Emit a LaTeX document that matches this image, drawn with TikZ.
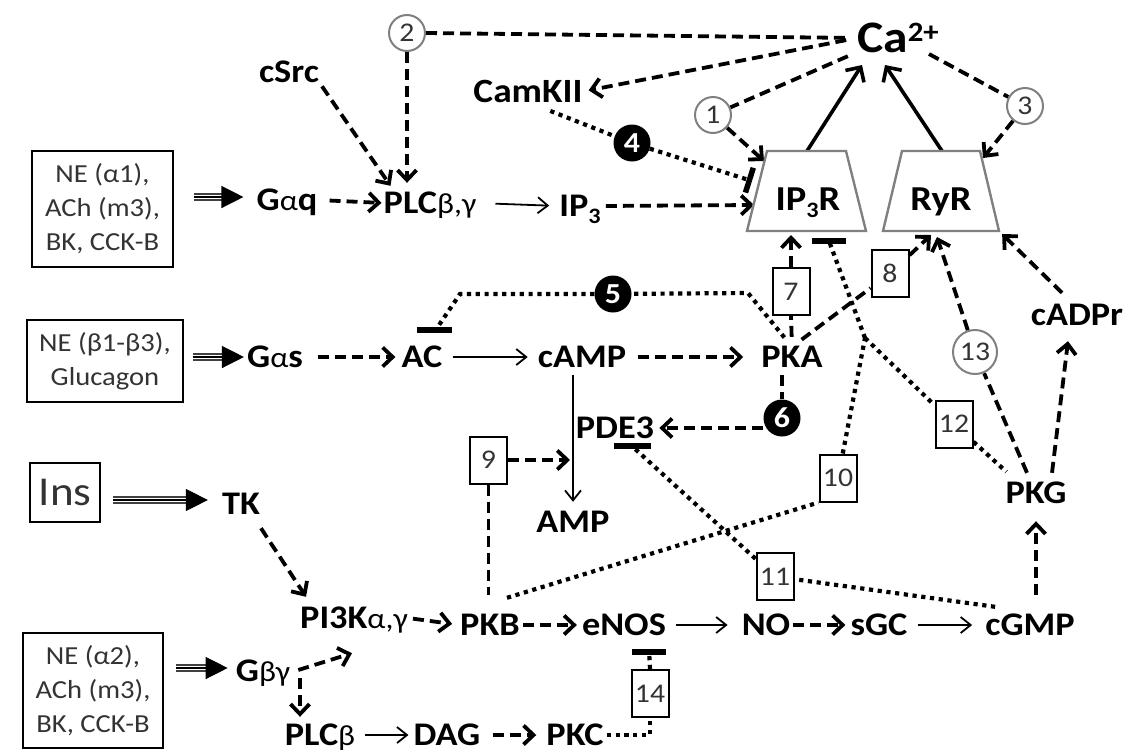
\documentclass[tikz,border=0pt]{standalone}
\usepackage{fontspec}
\setmainfont{Carlito}[FakeStretch=1.1]
\usetikzlibrary{arrows.meta,calc}
\pgfdeclarelayer{bg}
\pgfsetlayers{bg,main}
\definecolor{cgray}{gray}{0.5}
\definecolor{tgray}{gray}{0.2}
\newcommand\gk[1]{{\fontsize{29}{29}\selectfont\mdseries #1}}
\newcommand\subt[1]{\raisebox{-7pt}{\fontsize{22}{22}\selectfont #1}}
\newcommand\tri[2]{%
 \draw[line width=1.3pt, draw=black!75, double=white, double distance=4.6pt, shorten >=14pt] #1 -- #2;
 \draw[line width=1.3pt, draw=black, -{Triangle[length=22pt,width=22pt]}] #1 -- #2;}
\tikzset{
 lbl/.style={inner sep=0pt, anchor=base, font=\fontsize{33}{36}\selectfont\bfseries, text height=20pt, text depth=0pt},
 dsh/.style={line width=3.8pt, dash pattern=on 11pt off 6pt},
 dot/.style={line width=4.2pt, dash pattern=on 4.2pt off 4.6pt},
 ar/.style={-{Straight Barb[length=10pt,width=19pt]}},
 thinar/.style={line width=1.8pt, -{Straight Barb[length=10pt,width=16pt]}},
 solidar/.style={line width=3.6pt, -{Straight Barb[length=11pt,width=22pt]}},
 inh/.style={-{Bar[width=26pt,line width=5.5pt]}},
 nbox/.style={draw, fill=white, line width=2pt, minimum width=37pt, minimum height=47pt, inner sep=0pt, font=\fontsize{27}{27}\selectfont, text=tgray},
 ocirc/.style={circle, draw=cgray, line width=2pt, minimum size=36pt, inner sep=0pt, fill=white, font=\fontsize{27}{27}\selectfont, text=tgray},
 fcirc/.style={circle, fill=black, minimum size=37pt, inner sep=0pt, font=\fontsize{29}{29}\selectfont\bfseries, text=white},
 rbox/.style={draw, line width=2pt, inner sep=0pt, align=center, font=\fontsize{26}{34}\selectfont, text=tgray},
 trap/.style={draw=cgray, line width=2.4pt, fill=white},
 barl/.style={line width=5.5pt},
}
\begin{document}
\begin{tikzpicture}[x=1pt,y=-1pt]
\useasboundingbox (0,0) rectangle (1130,753);

% receptor boxes
\node[rbox, minimum width=141pt, minimum height=116pt] (box1) at (102.5,209) {NE (α1),\\ACh (m3),\\BK, CCK-B};
\node[rbox, minimum width=156pt, minimum height=82pt] (box2) at (105,361) {NE (β1-β3),\\Glucagon};
\node[rbox, minimum width=70pt, minimum height=59pt, font=\fontsize{41}{41}\selectfont] (Ins) at (65,492.5) {Ins};
\node[rbox, minimum width=140pt, minimum height=115pt] (box3) at (93,690.5) {NE (α2),\\ACh (m3),\\BK, CCK-B};

% channels
\draw[trap] (767,151) -- (846,151) -- (866,231) -- (747,231) -- cycle;
\draw[trap] (902,151) -- (980,151) -- (999,231) -- (883,231) -- cycle;
\node[lbl, font=\fontsize{35}{36}\selectfont\bfseries, text height=22pt] (ip3r) at (808,210) {IP\subt{3}R};
\node[lbl, font=\fontsize{35}{36}\selectfont\bfseries, text height=22pt] (ryr) at (941,210) {RyR};
\coordinate (ip3L1) at (764,161);
\coordinate (ip3bar) at (752,181);
\coordinate (ip3L2) at (754,205);
\coordinate (ip3top) at (807,151);
\coordinate (ip3bot) at (791,231);
\coordinate (ip3barb) at (829,241);
\coordinate (ryrtop) at (942,151);
\coordinate (ryrR1) at (983,158);
\coordinate (ryrb1) at (931,235);
\coordinate (ryrb2) at (937,237);
\coordinate (ryrbr) at (1000,232);
\coordinate (k5r) at (748,293);
\coordinate (k5l) at (460,294);
\coordinate (acbar) at (437,328);
\coordinate (jn) at (865,338);

% labels
\node[lbl, font=\fontsize{45}{48}\selectfont\bfseries, text height=28pt, anchor=base west] (Ca) at (857,52) {Ca\raisebox{11pt}{\fontsize{28}{28}\selectfont 2+}};
\node[lbl] (cSrc) at (289,82) {cSrc};
\node[lbl, font=\fontsize{34}{36}\selectfont\bfseries, text height=21pt] (CamKII) at (528,102) {CamKII};
\node[lbl] (Gaq) at (287,210) {G\gk{α}q};
\node[lbl] (PLC) at (430,213) {PLC\gk{β,γ}};
\node[lbl] (IP3) at (580,216) {IP\subt{3}};
\node[lbl] (Gas) at (275,367) {G\gk{α}s};
\node[lbl] (AC) at (422,367) {AC};
\node[lbl] (cAMP) at (582,367) {cAMP};
\node[lbl] (PKA) at (792,367) {PKA};
\node[lbl] (cADPr) at (1077,325) {cADPr};
\node[lbl] (PDE3) at (615,438) {PDE3};
\node[lbl] (AMP) at (573,532) {AMP};
\node[lbl] (PKG) at (1036,503) {PKG};
\node[lbl] (TK) at (241,514) {TK};
\node[lbl] (PI3K) at (354,628) {PI3K\gk{α,γ}};
\node[lbl] (PKB) at (490,635) {PKB};
\node[lbl] (eNOS) at (624,635) {eNOS};
\node[lbl] (NO) at (766,635) {NO};
\node[lbl] (sGC) at (879,635) {sGC};
\node[lbl] (cGMP) at (1030,635) {cGMP};
\node[lbl] (Gbg) at (263,681) {G\gk{βγ}};
\node[lbl] (PLCb) at (320,745) {PLC\gk{β}};
\node[lbl] (DAG) at (447,745) {DAG};
\node[lbl] (PKC) at (575,745) {PKC};

% numbered markers
\node[ocirc] (c1) at (713,115) {1};
\node[ocirc] (c2) at (407,33) {2};
\node[ocirc] (c3) at (1025,106) {3};
\node[ocirc, minimum size=44pt] (c13) at (975,352) {13};
\node[fcirc] (c4) at (632,143) {4};
\node[fcirc] (c5) at (613,294) {5};
\node[fcirc] (c6) at (782,418) {6};
\node[nbox] (b7) at (791,291.5) {7};
\node[nbox] (b8) at (890,273.5) {8};
\node[nbox] (b9) at (488.5,460) {9};
\node[nbox] (b10) at (838,478) {10};
\node[nbox] (b11) at (775,576.5) {11};
\node[nbox] (b12) at (954,424) {12};
\node[nbox] (b14) at (650,693.5) {14};

\coordinate (pdebar) at ($(PDE3.south east)+(-21,8)$);
\coordinate (enosbar) at ($(eNOS.south east)+(-17,17)$);
\coordinate (pbtip) at ($(PLCb.north)+(-20,-8)$);

\begin{pgfonlayer}{bg}
% triple arrows
\tri{($(box1.east |- Gaq.west)+(20,-3)$)}{($(Gaq.west)+(-13,-3)$)}
\tri{($(box2.east |- Gas.west)+(9,0)$)}{($(Gas.west)+(-3,0)$)}
\tri{($(Ins.east |- TK.west)+(12,-4)$)}{($(TK.west)+(-14,-4)$)}
\tri{($(box3.east |- Gbg.west)+(12,-3)$)}{($(Gbg.west)+(-8,-3)$)}

% top row
\draw[dsh, ar, shorten <=12pt, shorten >=2pt] (Gaq.east) -- (PLC.west);
\draw[dsh, ar, shorten <=5pt] (cSrc.south east) -- ($(PLC.north west)+(7,-7)$);
\draw[dsh, ar, shorten >=10pt] (c2.south) -- (c2.south |- PLC.north);
\draw[dsh, shorten >=12pt] (c2.east) -- (Ca.west);
\draw[dsh, ar, shorten <=11pt, shorten >=6pt] (Ca.west) -- (CamKII.east);
\draw[dsh, shorten <=10pt] (Ca.south west) -- (c1);
\draw[dsh, ar] (c1) -- (ip3L1);
\draw[dot, shorten <=24pt] (CamKII.south) -- (c4);
\draw[dot, inh] (c4) -- (ip3bar);
\draw[thinar, shorten <=19pt, shorten >=10pt] (PLC.east) -- (IP3.west);
\draw[dsh, ar, shorten <=5pt] (IP3.east) -- (ip3L2);
\draw[solidar] (ip3top) -- ($(Ca.base west)+(5,13)$);
\draw[solidar] (ryrtop) -- ($(Ca.base west)+(28,13)$);
\draw[dsh] ($(Ca.base west)+(72,2)$) -- (c3);
\draw[dsh, ar] (c3) -- (ryrR1);

% middle row
\draw[dsh, ar, shorten <=15pt, shorten >=6pt] (Gas.east) -- (AC.west);
\draw[thinar, shorten <=10pt, shorten >=10pt] (AC.east) -- (cAMP.west);
\draw[dsh, ar, shorten <=12pt, shorten >=18pt] (cAMP.east) -- (PKA.west);
\draw[dot, shorten <=12pt] (PKA.north) -- (k5r) -- (c5);
\draw[dot] (c5) -- (k5l) -- (acbar);
\draw[barl] ($(acbar)+(-20,2)$) -- ($(acbar)+(15,2)$);
\draw[dsh, shorten <=10pt] (PKA.north) -- (b7.south);
\draw[dsh, ar, shorten >=4pt] (b7.north) -- (ip3bot);
\draw[dsh, shorten <=12pt] (PKA.north) -- (b8);
\draw[dsh, ar] (b8) -- (ryrb1);
\draw[dsh, ar] (c13) -- (ryrb2);
\draw[dsh] ($(PKG.north)+(-9,-10)$) -- (c13);
\draw[dsh, ar] ($(PKG.north)+(16,-10)$) -- ($(cADPr.south)+(-9,16)$);
\draw[dsh, ar, shorten >=3pt] ($(cADPr.north)+(-15,-12)$) -- (ryrbr);
\draw[dsh, shorten <=8pt] (c6 |- PKA.south) -- (c6);
\draw[dsh, ar, shorten >=5pt] (PDE3.east -| c6.west) -- (PDE3.east);
\draw[barl] ($(pdebar)+(-19,0)$) -- ($(pdebar)+(18,0)$);
\draw[dot] ($(cGMP.north west)+(10,-8)$) -- (b11) -- ($(pdebar)+(2,3)$);
\draw[thinar, shorten <=8pt, shorten >=10pt] (cAMP.south -| AMP.north) -- (AMP.north);
\draw[dsh, ar, shorten >=3pt] (b9.east) -- (b9.east -| AMP.north);
\draw[dsh, shorten >=20pt] (b9.south) -- (b9.south |- PKB.north);
\draw[dot] ($(PKB.north)+(17,-17)$) -- (b10.south west);
\draw[dot] (b10) -- (jn);
\draw[dot, shorten >=2pt] (jn) -- (ip3barb);
\draw[barl] ($(ip3barb)+(-17,0)$) -- ($(ip3barb)+(17,0)$);
\draw[dot] (jn) -- (b12) -- ($(PKG.north west)+(1,-11)$);

% bottom rows
\draw[dsh, ar] ($(TK.south)+(20,14)$) -- ($(PI3K.north west)+(6,-11)$);
\draw[dsh, ar, shorten <=5pt, shorten >=8pt] (PI3K.east) -- (PKB.west);
\draw[dsh, ar, shorten <=3pt, shorten >=5pt] (PKB.east) -- (eNOS.west);
\draw[thinar, shorten <=10pt, shorten >=14pt] (eNOS.east) -- (NO.west);
\draw[dsh, ar, shorten <=3pt, shorten >=5pt] (NO.east) -- (sGC.west);
\draw[thinar, shorten <=10pt, shorten >=13pt] (sGC.east) -- (cGMP.west);
\draw[dsh, ar, shorten <=20pt, shorten >=18pt] (PKG.south |- cGMP.north) -- (PKG.south);
\draw[barl] ($(enosbar)+(-17,0)$) -- ($(enosbar)+(17,0)$);
\draw[dot, shorten >=2pt] (b14.north) -- (enosbar);
\draw[dot, shorten <=3pt] (PKC.east) -- (PKC.east -| b14.south) -- (b14.south);
\draw[dsh, ar] ($(Gbg.east)+(8,-1)$) -- ($(PI3K.south)+(-2,25)$);
\draw[dsh, ar, shorten <=-3pt] (pbtip |- Gbg.south) -- (pbtip);
\draw[thinar, shorten <=10pt, shorten >=5pt] (PLCb.east) -- (DAG.west);
\draw[dsh, ar, shorten <=12pt, shorten >=10pt] (DAG.east) -- (PKC.west);
\end{pgfonlayer}
\end{tikzpicture}
\end{document}
